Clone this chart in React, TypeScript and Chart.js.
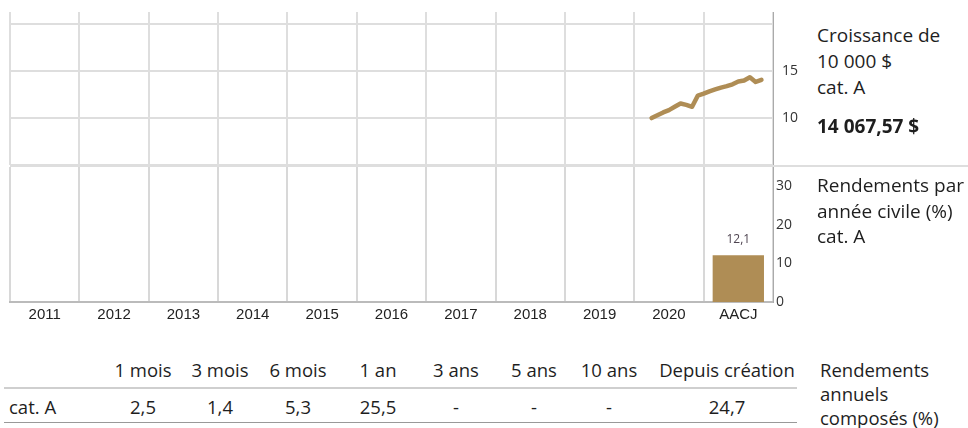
import React, { useEffect, useRef } from 'react';
import { Chart, registerables } from 'chart.js';

Chart.register(...registerables);

// ---------- data ----------
const growthMonths = [
  '2020-03', '2020-04', '2020-05', '2020-06', '2020-07', '2020-08', '2020-09', '2020-10', '2020-11', '2020-12',
  '2021-01', '2021-02', '2021-03', '2021-04', '2021-05', '2021-06', '2021-07', '2021-08', '2021-09', '2021-10',
];
const growthValues = [
  10.0, 10.3, 10.6, 10.85, 11.2, 11.55, 11.4, 11.2, 12.4, 12.6,
  12.85, 13.05, 13.25, 13.4, 13.6, 13.9, 14.0, 14.35, 13.85, 14.07,
];
const growthTicks = [5, 10, 15, 20];
const growthTickLabels = [10, 15];
const growthYears = [2011, 2022];

const calendarYears = ['2011', '2012', '2013', '2014', '2015', '2016', '2017', '2018', '2019', '2020', 'AACJ'];
const calendarReturns: (number | null)[] = [null, null, null, null, null, null, null, null, null, null, 12.1];
const returnTicks = [0, 10, 20, 30];

const periods = ['1 mois', '3 mois', '6 mois', '1 an', '3 ans', '5 ans', '10 ans', 'Depuis création'];
const periodReturns: (number | null)[] = [2.5, 1.4, 5.3, 25.5, null, null, null, 24.7];
const periodCenters = [143, 220, 298, 378, 456, 534, 609, 727];

// ---------- styles ----------
const GOLD = '#af8d55';
const FONT = "'Open Sans', 'Noto Sans', sans-serif";
const NARROW = "'Liberation Sans Narrow', 'Liberation Sans', Arial, sans-serif";
const GRID = '#dedede';

const fmt = (v: number | null) => (v === null ? '-' : v.toFixed(1).replace('.', ','));
const toYear = (s: string) => {
  const [y, m] = s.split('-').map(Number);
  return y + m / 12;
};

const barLabelPlugin = {
  id: 'barLabels',
  afterDatasetsDraw(chart: any) {
    const ctx = chart.ctx;
    const meta = chart.getDatasetMeta(0);
    ctx.save();
    ctx.font = `12px ${FONT}`;
    ctx.fillStyle = '#4e4450';
    ctx.textAlign = 'center';
    ctx.textBaseline = 'middle';
    meta.data.forEach((el: any, i: number) => {
      const v = chart.data.datasets[0].data[i];
      if (v === null || v === undefined) return;
      ctx.fillText(fmt(v), el.x, el.y - 16);
    });
    ctx.restore();
  },
};

export default function App() {
  const topRef = useRef<HTMLCanvasElement>(null);
  const botRef = useRef<HTMLCanvasElement>(null);

  useEffect(() => {
    const top = new Chart(topRef.current!, {
      type: 'line',
      data: {
        datasets: [
          {
            data: growthMonths.map((m, i) => ({ x: toYear(m), y: growthValues[i] })),
            borderColor: GOLD,
            borderWidth: 4.5,
            pointRadius: 0,
            tension: 0,
            borderJoinStyle: 'round',
            borderCapStyle: 'round',
          } as any,
        ],
      },
      options: {
        responsive: false,
        animation: false,
        layout: { padding: { left: 10, top: 12, right: 0, bottom: 2 } },
        plugins: { legend: { display: false }, tooltip: { enabled: false } },
        scales: {
          x: {
            type: 'linear',
            min: growthYears[0],
            max: growthYears[1],
            ticks: { display: false, stepSize: 1 },
            grid: { color: GRID, lineWidth: 2, drawTicks: false },
            border: { display: false },
            afterFit: (s: any) => {
              s.height = 0;
              s.paddingLeft = 0;
              s.paddingRight = 0;
            },
          },
          y: {
            position: 'right',
            min: 5,
            max: 21.3,
            afterBuildTicks: (s: any) => {
              s.ticks = growthTicks.map((v) => ({ value: v }));
            },
            ticks: {
              padding: 9,
              color: '#333',
              font: { family: FONT, size: 14 },
              callback: (v: any) => (growthTickLabels.includes(Number(v)) ? String(v) : ''),
            },
            grid: { color: GRID, lineWidth: 2, drawTicks: false },
            border: { display: true, color: '#aaa', width: 1 },
            afterFit: (s: any) => {
              s.width = 37;
              s.paddingTop = 0;
              s.paddingBottom = 0;
            },
          },
        },
      } as any,
    });

    const bot = new Chart(botRef.current!, {
      type: 'bar',
      data: {
        labels: calendarYears,
        datasets: [
          {
            data: calendarReturns,
            backgroundColor: GOLD,
            barPercentage: 0.74,
            categoryPercentage: 1,
          } as any,
        ],
      },
      options: {
        responsive: false,
        animation: false,
        layout: { padding: { left: 10, top: 7, right: 0, bottom: 0 } },
        plugins: { legend: { display: false }, tooltip: { enabled: false } },
        scales: {
          x: {
            grid: { color: '#d8d8d8', lineWidth: 2, drawTicks: false, offset: true },
            border: { display: true, color: '#bbb', width: 2 },
            ticks: {
              padding: 4,
              color: '#222',
              font: { family: NARROW, size: 15 },
              maxRotation: 0,
              autoSkip: false,
            },
            afterFit: (s: any) => {
              s.height = 38;
              s.paddingLeft = 0;
              s.paddingRight = 0;
            },
          },
          y: {
            position: 'right',
            min: 0,
            max: 35,
            afterBuildTicks: (s: any) => {
              s.ticks = returnTicks.map((v) => ({ value: v }));
            },
            grid: { display: false, drawTicks: false },
            border: { display: true, color: '#aaa', width: 1 },
            ticks: { padding: 3, color: '#333', font: { family: FONT, size: 14 } },
            afterFit: (s: any) => {
              s.width = 37;
              s.paddingTop = 0;
              s.paddingBottom = 0;
            },
          },
        },
      } as any,
      plugins: [barLabelPlugin],
    });

    return () => {
      top.destroy();
      bot.destroy();
    };
  }, []);

  const txt: React.CSSProperties = { position: 'absolute', fontFamily: FONT, color: '#1e1e1e', whiteSpace: 'nowrap' };

  return (
    <div style={{ position: 'absolute', left: 0, top: 0, width: 968, height: 428, background: '#fff', overflow: 'hidden' }}>
      <canvas ref={topRef} width={810} height={167} style={{ position: 'absolute', left: 0, top: 0, width: 810, height: 167 }} />
      <canvas ref={botRef} width={810} height={180} style={{ position: 'absolute', left: 0, top: 160, width: 810, height: 180 }} />
      <div style={{ position: 'absolute', left: 10, top: 165, width: 958, height: 2, background: GRID }} />

      <div style={{ ...txt, left: 817, top: 22, fontSize: 19, lineHeight: '26px' }}>
        Croissance de
        <br />
        10 000 $
        <br />
        cat. A
      </div>
      <div style={{ ...txt, left: 817, top: 113, fontSize: 19, lineHeight: '26px', fontWeight: 700 }}>14 067,57 $</div>

      <div style={{ ...txt, left: 817, top: 173, fontSize: 19, lineHeight: '25.5px' }}>
        Rendements par
        <br />
        année civile (%)
        <br />
        cat. A
      </div>

      {periods.map((p, i) => (
        <div
          key={p}
          style={{ ...txt, left: periodCenters[i] - 80, width: 160, textAlign: 'center', top: 358, fontSize: 18.5, lineHeight: '24px' }}
        >
          {p}
        </div>
      ))}
      <div style={{ position: 'absolute', left: 4, top: 387, width: 793, height: 2, background: '#cfcfcf' }} />
      <div style={{ ...txt, left: 9, top: 395, fontSize: 18.5, lineHeight: '24px' }}>cat. A</div>
      {periodReturns.map((v, i) => (
        <div
          key={i}
          style={{ ...txt, left: periodCenters[i] - 80, width: 160, textAlign: 'center', top: 395, fontSize: 18.5, lineHeight: '24px' }}
        >
          {fmt(v)}
        </div>
      ))}
      <div style={{ position: 'absolute', left: 4, top: 422, width: 793, height: 1, background: '#999' }} />

      <div style={{ ...txt, left: 820, top: 358, fontSize: 18.5, lineHeight: '24px' }}>
        Rendements
        <br />
        annuels
        <br />
        composés (%)
      </div>
    </div>
  );
}
